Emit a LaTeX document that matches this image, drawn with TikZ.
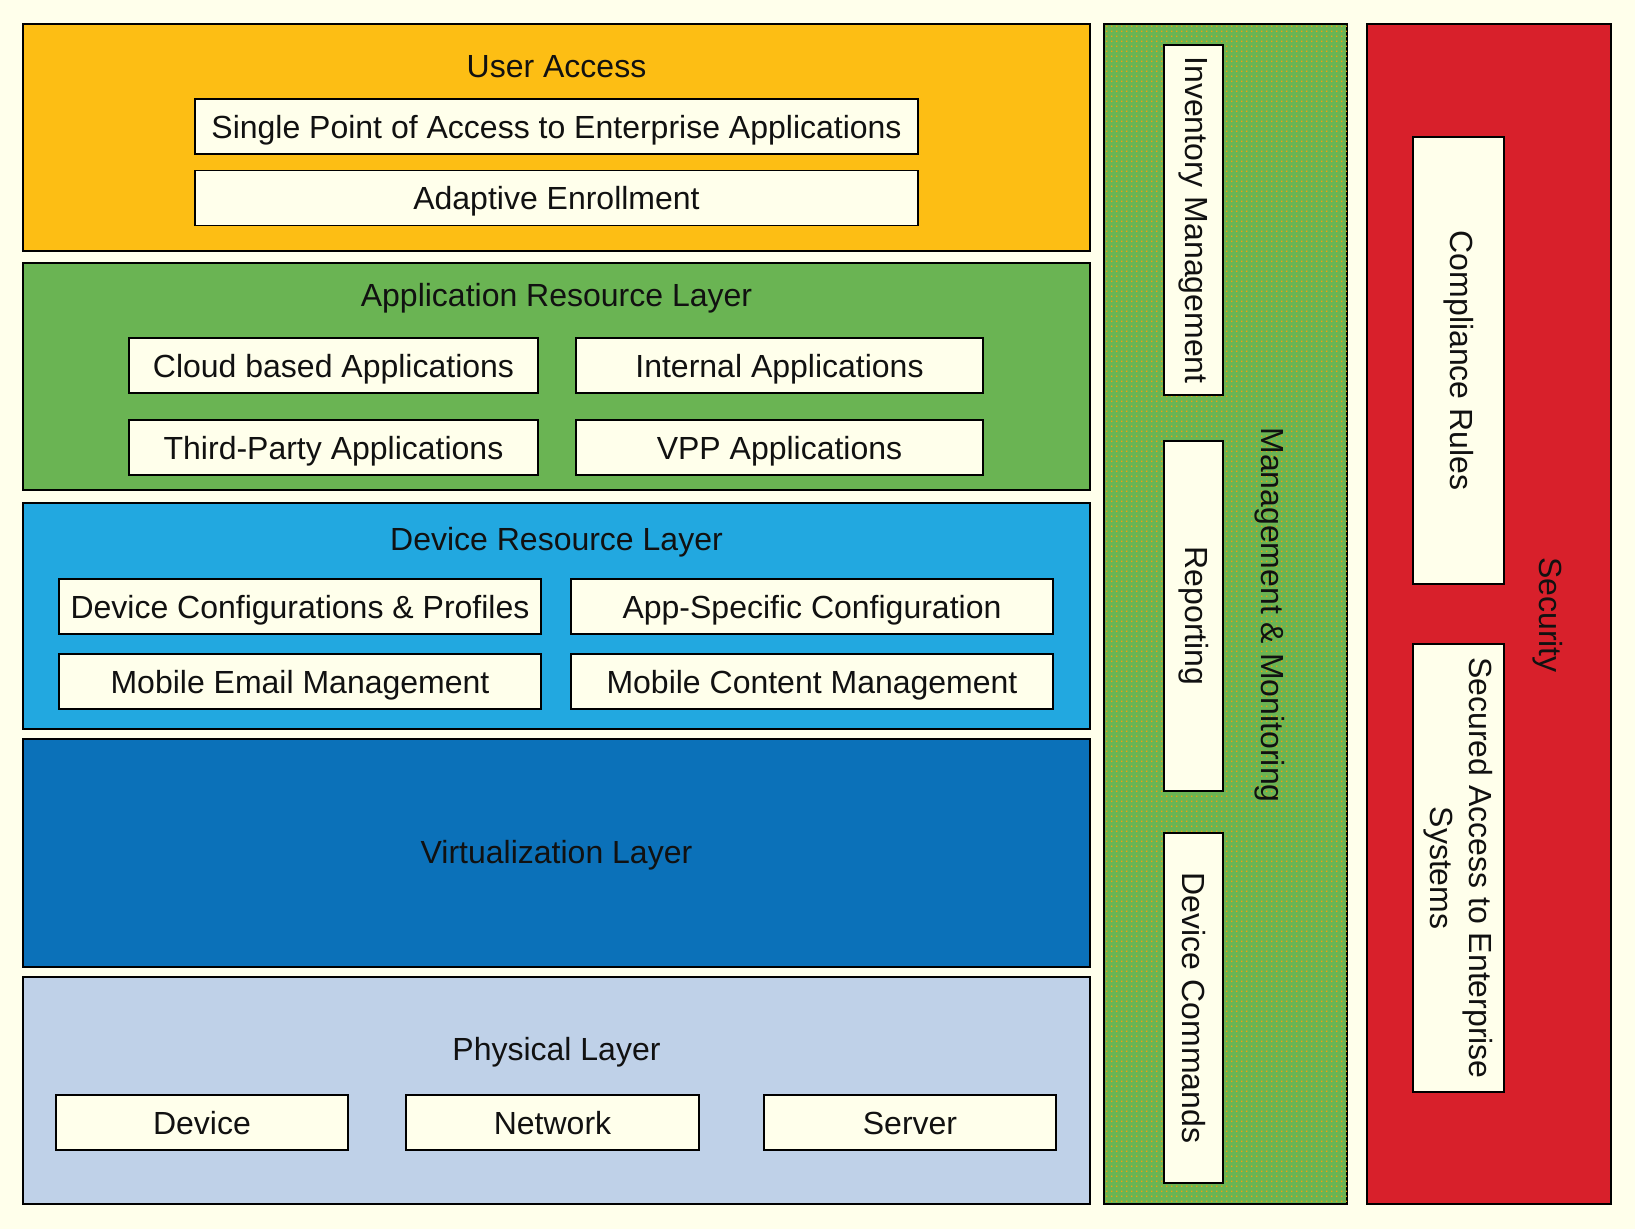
\documentclass[tikz,border=0pt]{standalone}
\usepackage{fontspec}
\setmainfont{Liberation Sans}
\usetikzlibrary{positioning,patterns.meta}
\definecolor{cream}{HTML}{FFFFEB}
\definecolor{uayellow}{HTML}{FDBE14}
\definecolor{appgreen}{HTML}{6AB453}
\definecolor{devblue}{HTML}{22A8E0}
\definecolor{virtblue}{HTML}{0B71B9}
\definecolor{physblue}{HTML}{BFD1E8}
\definecolor{secred}{HTML}{D8202B}
\definecolor{dotorange}{HTML}{F2A20C}
\definecolor{txt}{HTML}{111111}

\tikzdeclarepattern{
  name=orangedots,
  type=uncolored,
  bottom left={(0pt,0pt)},
  top right={(1.3pt,1.3pt)},
  tile size={(1.3pt,1.3pt)},
  code={\fill (0pt,0pt) rectangle (0.45pt,0.45pt);}
}

\begin{document}
\begin{tikzpicture}[
  x=0.01cm, y=-0.01cm,
  every node/.style={font=\fontsize{9.1}{11}\selectfont, text=txt},
  layer/.style={rectangle, draw=black, line width=0.6pt, inner sep=0pt, minimum width=10.67cm, minimum height=2.27cm},
  column/.style={rectangle, draw=black, line width=0.6pt, inner sep=0pt, minimum width=2.43cm, minimum height=11.8cm},
  item/.style={rectangle, draw=black, fill=cream, line width=0.5pt, inner sep=0pt, minimum height=0.55cm, text centered, text height=6.6pt, text depth=0pt},
  vitem/.style={item, rotate=-90, minimum height=0.59cm, minimum width=3.5cm, text height=, text depth=},
  ttl/.style={inner sep=0pt, text height=6.6pt, text depth=0pt},
  vttl/.style={inner sep=0pt, rotate=-90},
]

% page
\fill[cream] (0,0) rectangle (1635,1229);
\useasboundingbox (0,0) rectangle (1635,1229);

% horizontal layers
\node[layer, fill=uayellow] (useraccess) at (556.5,137.5) {};
\node[layer, fill=appgreen] (appres) at (556.5,376.5) {};
\node[layer, fill=devblue, minimum height=2.26cm] (devres) at (556.5,616) {};
\node[layer, fill=virtblue, minimum height=2.28cm] (virt) at (556.5,853) {};
\node[layer, fill=physblue] (phys) at (556.5,1090.5) {};

% user access
\node[ttl] (uatitle) at (556.5,66) {User Access};
\node[item, minimum width=7.23cm] (single) at (556.5,126.5) {Single Point of Access to Enterprise Applications};
\node[item, minimum width=7.23cm] (enroll) at (556.5,198) {Adaptive Enrollment};

% application resource layer
\node[ttl] (apptitle) at (556.5,295) {Application Resource Layer};
\node[item, minimum width=4.09cm] (cloud) at (333.5,365.5) {Cloud based Applications};
\node[item, minimum width=4.07cm] (internal) at (779.5,365.5) {Internal Applications};
\node[item, minimum width=4.09cm] (thirdparty) at (333.5,447.5) {Third-Party Applications};
\node[item, minimum width=4.07cm] (vpp) at (779.5,447.5) {VPP Applications};

% device resource layer
\node[ttl] (devtitle) at (556.5,539) {Device Resource Layer};
\node[item, minimum width=4.82cm] (devconf) at (300,606.5) {Device Configurations \& Profiles};
\node[item, minimum width=4.82cm] (appconf) at (812,606.5) {App-Specific Configuration};
\node[item, minimum width=4.82cm] (email) at (300,681.5) {Mobile Email Management};
\node[item, minimum width=4.82cm] (content) at (812,681.5) {Mobile Content Management};

% virtualization layer
\node[ttl] (virttitle) at (556.5,852) {Virtualization Layer};

% physical layer
\node[ttl] (phystitle) at (556.5,1049) {Physical Layer};
\node[item, minimum width=2.92cm] (device) at (202,1122.5) {Device};
\node[item, minimum width=2.93cm] (network) at (552.5,1122.5) {Network};
\node[item, minimum width=2.92cm] (server) at (910,1122.5) {Server};

% management & monitoring column
\node[column, fill=appgreen, postaction={pattern=orangedots, pattern color=dotorange}] (mgmt) at (1225.5,614) {};
\node[vitem] (inventory) at (1193.5,220) {Inventory Management};
\node[vitem] (reporting) at (1193.5,616) {Reporting};
\node[vitem] (commands) at (1193.5,1008) {Device Commands};
\node[vttl] (mgmttitle) at (1270,615) {Management \& Monitoring};

% security column
\node[column, fill=secred, minimum width=2.44cm] (security) at (1489,614) {};
\node[vitem, minimum height=0.91cm, minimum width=4.47cm] (compliance) at (1458.5,360.5) {Compliance Rules};
\node[vitem, minimum height=0.91cm, minimum width=4.48cm, align=center] (secured) at (1458.5,868) {Secured Access to Enterprise\\Systems};
\node[vttl] (sectitle) at (1548,615) {Security};

\end{tikzpicture}
\end{document}
